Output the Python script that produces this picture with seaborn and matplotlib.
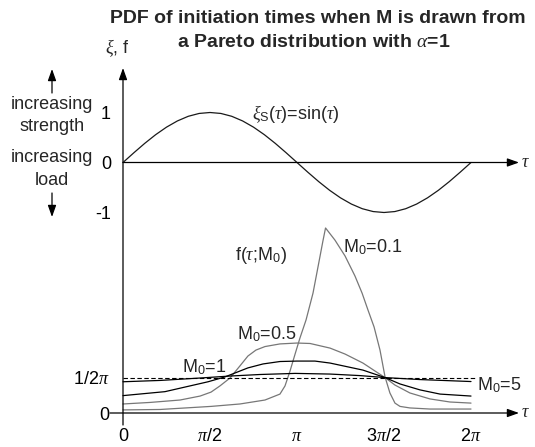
import numpy as np
import pandas as pd
import matplotlib
matplotlib.use("Agg")
import matplotlib.pyplot as plt
import matplotlib.patches as mpatches
import seaborn as sns

PI = np.pi

# ---------------- data (tau in units of pi) ----------------
sine_tau = [0, 0.0625, 0.125, 0.1875, 0.25, 0.3125, 0.375, 0.4375, 0.5, 0.5625, 0.625,
            0.6875, 0.75, 0.8125, 0.875, 0.9375, 1.0, 1.0625, 1.125, 1.1875, 1.25, 1.3125,
            1.375, 1.4375, 1.5, 1.5625, 1.625, 1.6875, 1.75, 1.8125, 1.875, 1.9375, 2.0]
sine_xi = [0, 0.195, 0.383, 0.556, 0.707, 0.831, 0.924, 0.981, 1.0, 0.981, 0.924,
           0.831, 0.707, 0.556, 0.383, 0.195, 0, -0.195, -0.383, -0.556, -0.707, -0.831,
           -0.924, -0.981, -1.0, -0.981, -0.924, -0.831, -0.707, -0.556, -0.383, -0.195, 0]

m01_tau = [0, 0.213, 0.506, 0.672, 0.816, 0.902, 0.931, 0.960, 0.989, 1.017, 1.052, 1.092,
           1.126, 1.149, 1.164, 1.218, 1.276, 1.333, 1.374, 1.408, 1.443, 1.477, 1.506,
           1.534, 1.563, 1.592, 1.649, 1.764, 2.0]
m01_f = [0.014, 0.016, 0.030, 0.041, 0.059, 0.086, 0.123, 0.191, 0.268, 0.341, 0.423, 0.545,
         0.686, 0.782, 0.841, 0.786, 0.714, 0.623, 0.545, 0.468, 0.391, 0.286, 0.164,
         0.091, 0.045, 0.030, 0.023, 0.018, 0.018]

m05_tau = [0, 0.155, 0.328, 0.443, 0.506, 0.557, 0.615, 0.672, 0.718, 0.764, 0.816, 0.902,
           1.0, 1.075, 1.190, 1.276, 1.379, 1.448, 1.506, 1.563, 1.649, 1.764, 1.879, 2.0]
m05_f = [0.041, 0.048, 0.059, 0.077, 0.095, 0.123, 0.159, 0.214, 0.259, 0.286, 0.302, 0.314,
         0.318, 0.316, 0.295, 0.268, 0.227, 0.191, 0.161, 0.127, 0.091, 0.064, 0.050, 0.045]

m1_tau = [0, 0.241, 0.489, 0.586, 0.718, 0.805, 0.902, 1.0, 1.103, 1.190, 1.379, 1.506,
          1.592, 1.707, 1.822, 2.0]
m1_f = [0.079, 0.097, 0.142, 0.164, 0.205, 0.223, 0.234, 0.236, 0.236, 0.227, 0.195, 0.161,
        0.132, 0.105, 0.086, 0.077]

m5_tau = [0, 0.213, 0.443, 0.615, 0.787, 0.989, 1.190, 1.362, 1.506, 1.707, 2.0]
m5_f = [0.142, 0.148, 0.159, 0.168, 0.175, 0.180, 0.177, 0.170, 0.161, 0.152, 0.143]

m0_labels = ["0.1", "0.5", "1", "5"]
uniform_level = 1 / (2 * PI)

x_ticks_pi = [0, 0.5, 1, 1.5, 2]
x_tick_labels = ["0", r"$\pi$/2", r"$\pi$", r"3$\pi$/2", r"2$\pi$"]
top_y_ticks = [-1, 0, 1]
top_y_labels = ["-1", "0", "1"]
bot_y_ticks = [0, uniform_level]
bot_y_labels = ["0", r"1/2$\pi$"]

# ---------------- style ----------------
sns.set_style("white")
plt.rcParams["font.family"] = ["Liberation Sans", "DejaVu Sans"]
plt.rcParams["mathtext.fontset"] = "custom"
plt.rcParams["mathtext.rm"] = "Liberation Sans"
plt.rcParams["mathtext.it"] = "Liberation Serif:italic"
plt.rcParams["mathtext.bf"] = "Liberation Sans:bold"
plt.rcParams["mathtext.sf"] = "Liberation Sans"
plt.rcParams["lines.scale_dashes"] = False

FS = 13
W, H = 535, 447
X0, XS = 123, 174          # pixel of tau=0, pixels per pi
Y0T, YST = 162.5, 50.0     # upper panel: pixel of xi=0, pixels per unit
Y0B, YSB = 413.0, 220.0    # lower panel: pixel of f=0, pixels per unit


def tx(px):
    return (px - X0) / XS * PI


fig = plt.figure(figsize=(W / 100, H / 100), dpi=100)
fig.patch.set_facecolor("white")
ax_b = fig.add_axes([0, 0, 1, 1])
ax_t = fig.add_axes([0, 0, 1, 1])
for ax in (ax_b, ax_t):
    ax.set_xlim(tx(0), tx(W))
    ax.patch.set_visible(False)
    for s in ax.spines.values():
        s.set_visible(False)
    ax.spines["left"].set_position(("data", 0))
    ax.spines["bottom"].set_position(("data", 0))
ax_b.set_ylim((Y0B - H) / YSB, Y0B / YSB)
ax_t.set_ylim((Y0T - H) / YST, Y0T / YST)

# ---------------- curves ----------------
df_sine = pd.DataFrame({"tau": np.array(sine_tau) * PI, "xi": sine_xi})
sns.lineplot(data=df_sine, x="tau", y="xi", ax=ax_t, color="#1a1a1a", linewidth=0.9)

frames = []
for lab, tt, ff in zip(m0_labels, [m01_tau, m05_tau, m1_tau, m5_tau], [m01_f, m05_f, m1_f, m5_f]):
    frames.append(pd.DataFrame({"tau": np.array(tt) * PI, "f": ff, "M0": lab}))
df_pdf = pd.concat(frames, ignore_index=True)
pal = {"0.1": "#777777", "0.5": "#777777", "1": "#000000", "5": "#000000"}
sns.lineplot(data=df_pdf, x="tau", y="f", hue="M0", palette=pal, ax=ax_b,
             linewidth=0.9, legend=False, estimator=None, sort=False)

for ax in (ax_b, ax_t):
    ax.set_xlabel("")
    ax.set_ylabel("")

ax_b.hlines(uniform_level, 0, tx(475), colors="black", linewidth=0.8,
            linestyles=(0, (3.2, 1.8)))

# ---------------- ticks ----------------
ax_b.set_xticks(np.array(x_ticks_pi) * PI)
ax_b.set_xticklabels(x_tick_labels, fontsize=FS)
ax_b.tick_params(axis="x", direction="inout", length=14.4, width=0.8, pad=3.5, colors="black")
ax_b.set_yticks(bot_y_ticks)
ax_b.set_yticklabels(bot_y_labels, fontsize=FS)
ax_b.tick_params(axis="y", direction="out", length=8, width=0.8, pad=1.5, colors="black")

ax_t.set_xticks([])
ax_t.set_yticks(top_y_ticks)
ax_t.set_yticklabels(top_y_labels, fontsize=FS)
ax_t.tick_params(axis="y", direction="inout", length=14.4, width=0.8, pad=1.5, colors="black")

# ---------------- axes lines with arrows ----------------
AP = dict(arrowstyle="-|>,head_length=0.7,head_width=0.25", lw=0.9, color="black",
          shrinkA=0, shrinkB=0)
ax_b.annotate("", xy=(0, (Y0B - 68) / YSB), xytext=(0, (Y0B - 425) / YSB),
              arrowprops=AP, annotation_clip=False)
ax_b.annotate("", xy=(tx(519), 0), xytext=(tx(110), 0), arrowprops=AP, annotation_clip=False)
ax_t.annotate("", xy=(tx(519), 0), xytext=(0, 0), arrowprops=AP, annotation_clip=False)


def P(px, py):
    return (px / W, 1 - py / H)


fig.text(*P(521, 167), r"$\tau$", fontsize=FS, ha="left", va="baseline")
fig.text(*P(521, 417), r"$\tau$", fontsize=FS, ha="left", va="baseline")
fig.text(*P(105, 53), r"$\xi$, f", fontsize=FS, ha="left", va="baseline")

# left-side annotations
fig.text(*P(52, 109), "increasing", fontsize=FS, ha="center", va="baseline")
fig.text(*P(52, 131), "strength", fontsize=FS, ha="center", va="baseline")
fig.text(*P(52, 162), "increasing", fontsize=FS, ha="center", va="baseline")
fig.text(*P(52, 185), "load", fontsize=FS, ha="center", va="baseline")
for start, end in [((52, 93), (52, 69)), ((52, 193), (52, 217))]:
    ax_b.annotate("", xy=P(*end), xytext=P(*start), xycoords="figure fraction",
                  textcoords="figure fraction", arrowprops=AP, annotation_clip=False)

# curve labels
fig.text(*P(252, 119), r"$\xi_{\rm S}$($\tau$)=sin($\tau$)", fontsize=FS, ha="left", va="baseline")
fig.text(*P(235, 260), r"f($\tau$;M$_0$)", fontsize=FS, ha="left", va="baseline")
fig.text(*P(343, 252), r"M$_0$=0.1", fontsize=FS, ha="left", va="baseline")
fig.text(*P(237, 339), r"M$_0$=0.5", fontsize=FS, ha="left", va="baseline")
fig.text(*P(182, 372), r"M$_0$=1", fontsize=FS, ha="left", va="baseline")
fig.text(*P(477, 390), r"M$_0$=5", fontsize=FS, ha="left", va="baseline")

# title
fig.text(*P(318, 23), "PDF of initiation times when M is drawn from", fontsize=14,
         fontweight="bold", ha="center", va="baseline")
fig.text(*P(314, 47), r"a Pareto distribution with $\alpha$=1", fontsize=14,
         fontweight="bold", ha="center", va="baseline")

fig.savefig("out.png", dpi=100, facecolor="white")
